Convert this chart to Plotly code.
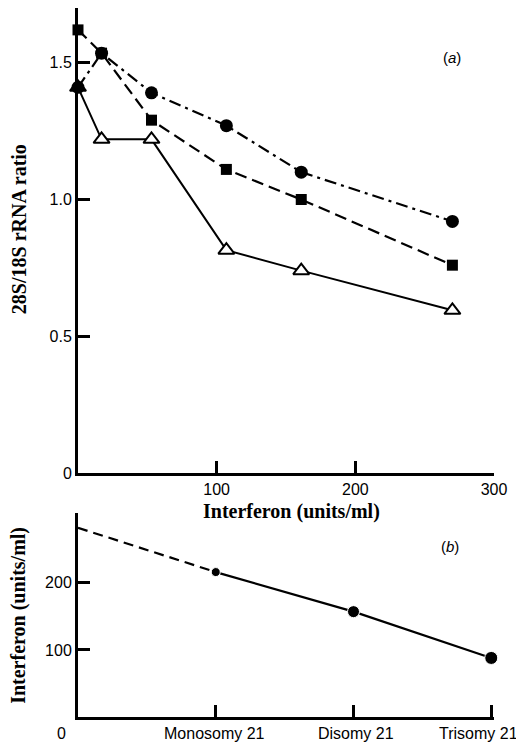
import plotly.graph_objects as go

# Panel (a)
dose = [0, 17, 53, 107, 161, 270]
circles = [1.41, 1.535, 1.39, 1.27, 1.10, 0.92]
squares = [1.62, 1.535, 1.29, 1.11, 1.00, 0.76]
triangles = [1.41, 1.22, 1.22, 0.815, 0.74, 0.595]

# Panel (b)
groups = ["Monosomy 21", "Disomy 21", "Trisomy 21"]
group_pos = [1, 2, 3]
interferon = [216, 157, 88]
extrap_x = [0, 1]
extrap_y = [282, 216]

fig = go.Figure()

fig.add_trace(go.Scatter(x=dose, y=circles, mode="lines+markers",
    line=dict(color="black", width=2.2, dash="12px,5px,3px,5px"),
    marker=dict(symbol="circle", size=13, color="black", opacity=1),
    xaxis="x", yaxis="y", showlegend=False, cliponaxis=False))
fig.add_trace(go.Scatter(x=dose, y=squares, mode="lines+markers",
    line=dict(color="black", width=2.2, dash="12px,6px"),
    marker=dict(symbol="square", size=11, color="black", opacity=1),
    xaxis="x", yaxis="y", showlegend=False, cliponaxis=False))
fig.add_trace(go.Scatter(x=dose, y=triangles, mode="lines+markers",
    line=dict(color="black", width=2),
    marker=dict(symbol="triangle-up", size=14, opacity=1,
                color=["black"] + ["white"] * (len(dose) - 1),
                line=dict(color="black", width=2)),
    xaxis="x", yaxis="y", showlegend=False, cliponaxis=False))

fig.add_trace(go.Scatter(x=extrap_x, y=extrap_y, mode="lines",
    line=dict(color="black", width=2.2, dash="10px,6px"),
    xaxis="x2", yaxis="y2", showlegend=False))
fig.add_trace(go.Scatter(x=group_pos, y=interferon, mode="lines+markers",
    line=dict(color="black", width=2.2),
    marker=dict(symbol="circle", size=[9, 12, 13], color="black", opacity=1),
    xaxis="x2", yaxis="y2", showlegend=False, cliponaxis=False))

tickfont = dict(family="Liberation Sans, Arial, sans-serif", size=16, color="black")
serif_big = dict(family="Liberation Serif, Times New Roman, serif", size=20, color="black")

axis_common = dict(showline=True, linecolor="black", showgrid=False, zeroline=False,
                   ticks="inside", tickcolor="black", ticklen=12, tickfont=tickfont)

annotations = [
    dict(text="<b>28S/18S rRNA ratio</b>", xref="paper", yref="paper", x=-0.142, y=0.688,
         textangle=-90, showarrow=False, font=serif_big, xanchor="center", yanchor="middle"),
    dict(text="<b>Interferon (units/ml)</b>", xref="paper", yref="paper", x=0.514, y=0.290,
         showarrow=False, font=serif_big, xanchor="center", yanchor="middle"),
    dict(text="<b>Interferon (units/ml)</b>", xref="paper", yref="paper", x=-0.142, y=0.144,
         textangle=-90, showarrow=False, font=serif_big, xanchor="center", yanchor="middle"),
    dict(text="(<i>a</i>)", xref="paper", yref="paper", x=0.899, y=0.9295,
         showarrow=False, font=dict(tickfont, size=15), xanchor="center", yanchor="middle"),
    dict(text="(<i>b</i>)", xref="paper", yref="paper", x=0.894, y=0.241,
         showarrow=False, font=dict(tickfont, size=15), xanchor="center", yanchor="middle"),
    dict(text="0", xref="paper", yref="paper", x=-0.0385, y=-0.0226,
         showarrow=False, font=tickfont, xanchor="center", yanchor="middle"),
]
label_shift = [-1, 2, -13]
for g, p, s in zip(groups, group_pos, label_shift):
    annotations.append(dict(text=g, x=p, y=0, xref="x2", yref="y2", yshift=-16,
                            xshift=s, showarrow=False, font=tickfont,
                            xanchor="center", yanchor="middle"))

# The page body adds an 8 px offset, so the figure is 8 px smaller and margins shifted.
fig.update_layout(
    width=516, height=734,
    margin=dict(l=70, r=30, t=0, b=25, autoexpand=False),
    paper_bgcolor="white", plot_bgcolor="white",
    xaxis=dict(domain=[0, 1], range=[0, 300], tickvals=[100, 200, 300],
               linewidth=2.5, tickwidth=2.5, anchor="y", **axis_common),
    yaxis=dict(domain=[0.344, 1], range=[0, 1.70], tickvals=[0, 0.5, 1.0, 1.5],
               ticktext=["0", "0.5", "1.0", "1.5"],
               linewidth=3, tickwidth=2.5, anchor="x", **axis_common),
    xaxis2=dict(domain=[0, 1], range=[0, 3.02], tickvals=group_pos, showticklabels=False,
                linewidth=2.5, tickwidth=2.5, anchor="y2", **axis_common),
    yaxis2=dict(domain=[0, 0.2877], range=[0, 304], tickvals=[100, 200],
                linewidth=3, tickwidth=2.5, anchor="x2", **axis_common),
    annotations=annotations,
)

fig.write_html("out.html")
